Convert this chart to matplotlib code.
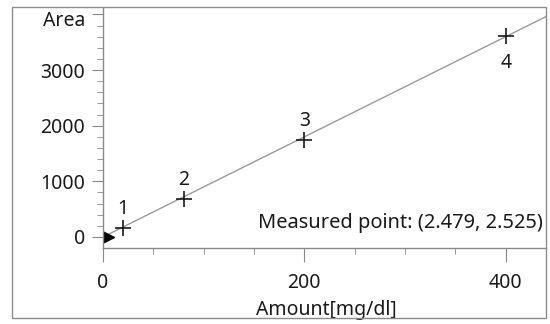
import numpy as np
import matplotlib
matplotlib.use("Agg")
import matplotlib.pyplot as plt
from matplotlib.patches import Rectangle
from matplotlib.ticker import MultipleLocator

# calibration standards
amount = [20, 80, 200, 400]
area = [160, 680, 1740, 3620]
point_labels = ["1", "2", "3", "4"]
label_below = [False, False, False, True]

# fitted calibration line
fit_slope = 9.0
fit_intercept = 0.0

measured = (2.479, 2.525)

xticks = [0, 200, 400]
yticks = [0, 1000, 2000, 3000, 4000]
ytick_labels = ["0", "1000", "2000", "3000", ""]

plt.rcParams['font.family'] = ['Noto Sans', 'DejaVu Sans']
text_col = "#1a1a1a"
axis_col = "#888888"
fs = 14

W, H = 550, 324
fig = plt.figure(figsize=(W / 100, H / 100), dpi=100)
fig.patch.set_facecolor("white")

# pixel box of the axes
x0, x1, y0, y1 = 103, 546, 8, 248
ax = fig.add_axes([x0 / W, 1 - y1 / H, (x1 - x0) / W, (y1 - y0) / H])

# outer frame
fig.patches.append(Rectangle((12 / W, 1 - 318 / H), (546 - 12) / W, (318 - 7) / H,
                             transform=fig.transFigure, fill=False,
                             edgecolor="#8c8c8c", lw=1.0))

ax.set_xlim(0, 440)
ax.set_ylim(-198, 4115)

xs = np.array([0, 440])
ax.plot(xs, fit_slope * xs + fit_intercept, color="#9a9a9a", lw=1.0)

ax.plot(amount, area, ls="none", marker="+", ms=12, mew=1.2, color="#1a1a1a")
for x, y, lab, below in zip(amount, area, point_labels, label_below):
    off = -20 if below else 14
    ax.annotate(lab, (x, y), xytext=(0, off), textcoords="offset points",
                ha="center", va="center", fontsize=fs, color=text_col)

ax.plot([measured[0]], [measured[1]], marker=">", ms=13.5, color="black", ls="none")

ax.text(0.993, 0.104, "Measured point: (%.3f, %.3f)" % measured, transform=ax.transAxes,
        ha="right", va="center", fontsize=14.4, color=text_col)

for s in ["top", "right"]:
    ax.spines[s].set_visible(False)
for s in ["left", "bottom"]:
    ax.spines[s].set_color(axis_col)
    ax.spines[s].set_linewidth(1.0)

ax.set_xticks(xticks)
ax.set_yticks(yticks)
ax.set_yticklabels(ytick_labels)
ax.xaxis.set_minor_locator(MultipleLocator(50))
ax.yaxis.set_minor_locator(MultipleLocator(200))
ax.tick_params(axis="both", which="major", colors=axis_col, labelcolor=text_col, labelsize=fs)
ax.tick_params(axis="x", which="major", length=10, pad=8)
ax.tick_params(axis="y", which="major", length=8, pad=5)
ax.tick_params(axis="both", which="minor", length=4, colors=axis_col)

ax.annotate("Area", xy=(0, 4000), xycoords=("axes fraction", "data"),
            xytext=(-13, -4.5), textcoords="offset points",
            ha="right", va="center", fontsize=fs, color=text_col)

ax.set_xlabel("Amount[mg/dl]", fontsize=fs, color=text_col)
ax.xaxis.set_label_coords(0.504, -0.26)
ax.xaxis.label.set_va("center")

fig.savefig("out.png", dpi=100)
